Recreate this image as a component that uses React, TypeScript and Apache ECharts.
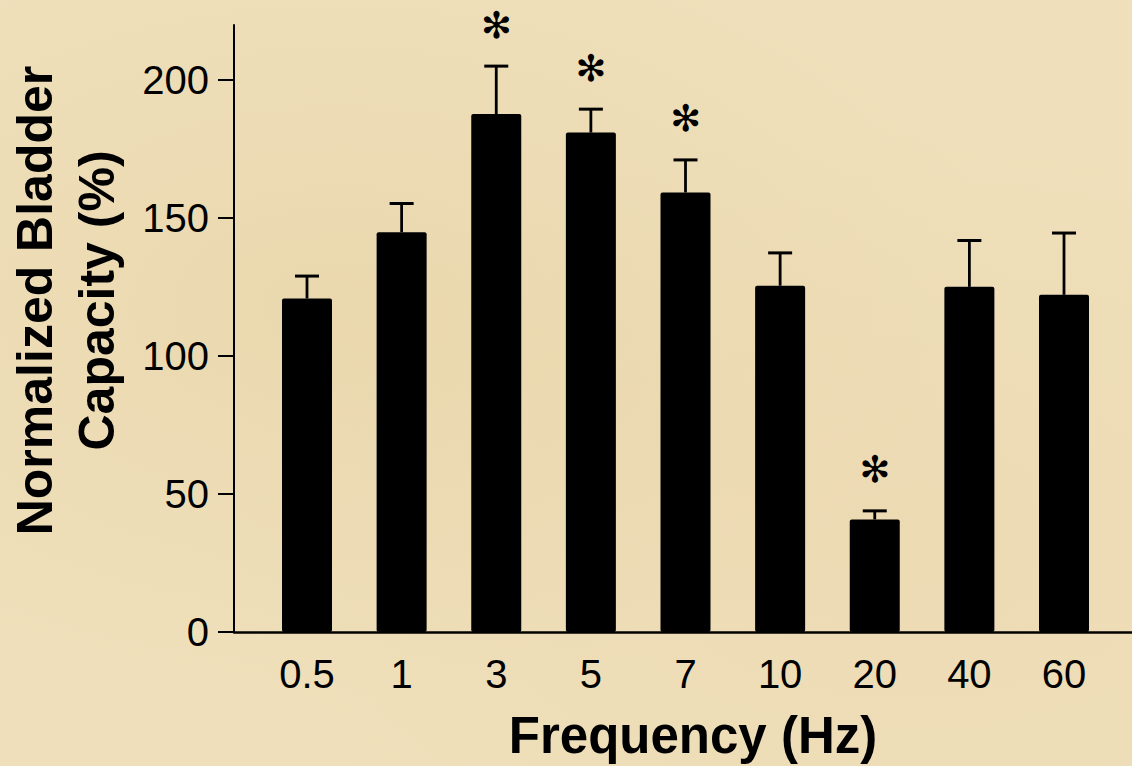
import React, { useEffect, useRef } from "react";
import * as echarts from "echarts";

const categories = ["0.5", "1", "3", "5", "7", "10", "20", "40", "60"];
const means = [120.9, 144.9, 187.7, 181.0, 159.3, 125.5, 40.8, 125.1, 122.2];
const errors = [8.1, 10.4, 17.4, 8.5, 11.8, 11.9, 3.1, 16.8, 22.4];
const significant = [false, false, true, true, true, false, true, false, false];
const yTicks = [0, 50, 100, 150, 200];

export default function App() {
  const ref = useRef<HTMLDivElement>(null);
  useEffect(() => {
    const chart = echarts.init(ref.current!, null, { renderer: "svg" });
    const barData = means.map((v, i) => [i, v]);
    const errData = means.map((v, i) => [i, v, errors[i], significant[i] ? 1 : 0]);
    chart.setOption({
      animation: false,
      backgroundColor: "transparent",
      grid: { left: 234, right: 0, top: 25, bottom: 134, outerBoundsMode: "none", containLabel: false },
      xAxis: {
        type: "value",
        min: -0.7715,
        max: 8.7186,
        splitLine: { show: false },
        axisLine: { show: true, onZero: false, lineStyle: { color: "#000", width: 2.5 } },
        axisTick: { show: false },
        axisLabel: {
          customValues: categories.map((_, i) => i),
          formatter: (v: number) => categories[Math.round(v)] ?? "",
          color: "#000",
          fontSize: 40,
          fontFamily: "Liberation Sans, Arial, sans-serif",
          margin: 22,
        },
        name: "Frequency (Hz)",
        nameLocation: "middle",
        nameGap: 78,
        nameTextStyle: {
          color: "#000",
          fontSize: 51,
          fontWeight: "bold",
          fontFamily: "Liberation Sans, Arial, sans-serif",
          padding: [0, 0, 0, 20],
        },
      },
      yAxis: {
        type: "value",
        min: 0,
        max: 220,
        splitLine: { show: false },
        axisLine: { show: true, onZero: false, lineStyle: { color: "#000", width: 2 } },
        axisTick: { show: true, customValues: yTicks, length: 16, lineStyle: { color: "#000", width: 2 } },
        axisLabel: {
          customValues: yTicks,
          color: "#000",
          fontSize: 40,
          fontFamily: "Liberation Sans, Arial, sans-serif",
          margin: 25,
        },
        name: "Normalized Bladder\nCapacity (%)",
        nameLocation: "middle",
        nameRotate: 90,
        nameGap: 106,
        nameTextStyle: {
          color: "#000",
          fontSize: 50,
          fontWeight: "bold",
          lineHeight: 62,
          fontFamily: "Liberation Sans, Arial, sans-serif",
          padding: [0, 0, 0, 56],
        },
      },
      series: [
        {
          type: "bar",
          data: barData,
          barWidth: 50,
          itemStyle: { color: "#000", borderRadius: 2 },
        },
        {
          type: "custom",
          data: errData,
          z: 5,
          renderItem: (params: any, api: any) => {
            const i = api.value(0);
            const m = api.value(1);
            const e = api.value(2);
            const sig = api.value(3);
            const base = api.coord([i, m]);
            const top = api.coord([i, m + e]);
            const children: any[] = [
              {
                type: "line",
                shape: { x1: base[0], y1: base[1], x2: top[0], y2: top[1] },
                style: { stroke: "#000", lineWidth: 2.8 },
              },
              {
                type: "line",
                shape: { x1: top[0] - 12, y1: top[1], x2: top[0] + 12, y2: top[1] },
                style: { stroke: "#000", lineWidth: 3 },
              },
            ];
            if (sig) {
              children.push({
                type: "text",
                style: {
                  text: "\u273B",
                  x: top[0],
                  y: top[1] - 41,
                  fill: "#000",
                  fontSize: 37,
                  fontFamily: "DejaVu Sans, sans-serif",
                  align: "center",
                  verticalAlign: "middle",
                },
              });
            }
            return { type: "group", children };
          },
        },
      ],
    });
    return () => chart.dispose();
  }, []);
  return (
    <div
      style={{
        position: "fixed",
        left: 0,
        top: 0,
        width: 1132,
        height: 766,
        background:
          "radial-gradient(ellipse at 30% 40%, rgba(225,200,150,0.35), transparent 60%), radial-gradient(ellipse at 80% 70%, rgba(230,205,160,0.3), transparent 55%), #efe0bb",
      }}
    >
      <div ref={ref} style={{ width: 1132, height: 766 }} />
    </div>
  );
}
